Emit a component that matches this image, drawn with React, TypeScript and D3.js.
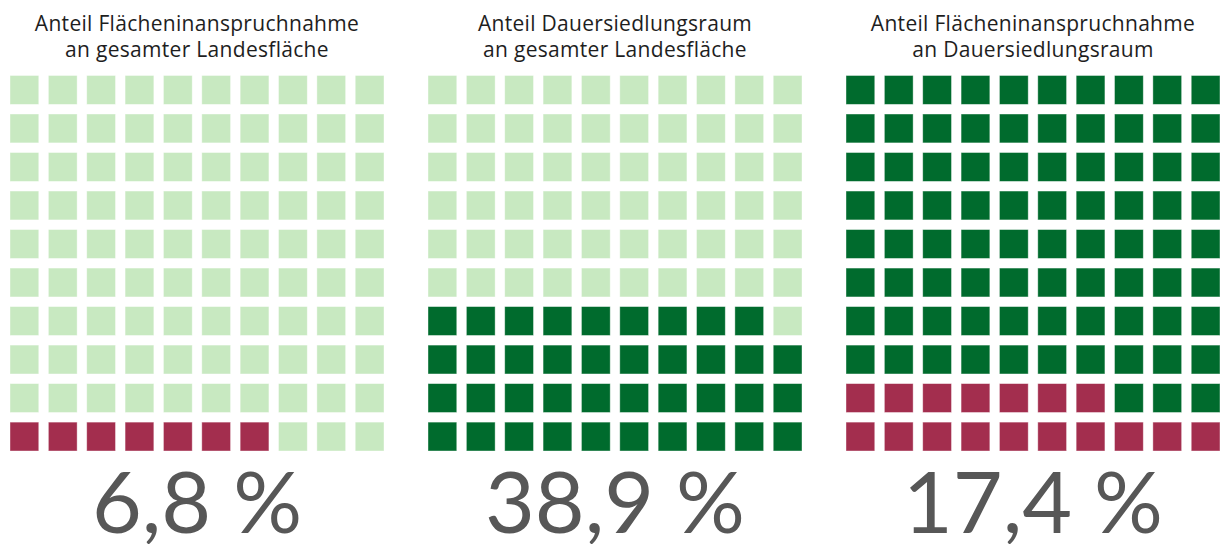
import { useEffect, useRef } from 'react'
import * as d3 from 'd3'

// Chart data
const titles = [
  ['Anteil Flächeninanspruchnahme', 'an gesamter Landesfläche'],
  ['Anteil Dauersiedlungsraum', 'an gesamter Landesfläche'],
  ['Anteil Flächeninanspruchnahme', 'an Dauersiedlungsraum'],
]
const shares = [6.8, 38.9, 17.4]
const labels = ['6,8 %', '38,9 %', '17,4 %']
const fillColors = ['#a32e4e', '#006b2d', '#a32e4e']
const baseColors = ['#c8e9c1', '#c8e9c1', '#006b2d']

const WIDTH = 1223
const HEIGHT = 544

export default function App() {
  const svgRef = useRef<SVGSVGElement>(null)

  useEffect(() => {
    if (!svgRef.current) return
    const svg = d3.select(svgRef.current)
    svg.selectAll('*').remove()

    const panelW = 374
    const panelX = d3.scaleBand<number>()
      .domain(d3.range(3))
      .range([10, WIDTH - 3])
      .paddingInner(44 / 418)

    const col = d3.scaleBand<number>().domain(d3.range(10)).range([0, panelW]).paddingInner(0.25)
    const row = d3.scaleBand<number>().domain(d3.range(10)).range([451, 75.5]).paddingInner(0.25)

    shares.forEach((v, i) => {
      const g = svg.append('g').attr('transform', `translate(${panelX(i)},0)`)
      const n = Math.round(v)
      const cells = d3.range(100).map(k => ({ r: Math.floor(k / 10), c: k % 10, on: k < n }))

      g.selectAll('rect')
        .data(cells)
        .enter()
        .append('rect')
        .attr('x', d => col(d.c)!)
        .attr('y', d => row(d.r)!)
        .attr('width', col.bandwidth())
        .attr('height', row.bandwidth())
        .attr('fill', d => d.on ? fillColors[i] : baseColors[i])
        .attr('stroke', '#ffffff')
        .attr('stroke-opacity', 0.5)
        .attr('stroke-width', 0.8)

      const t = g.append('text')
        .attr('text-anchor', 'middle')
        .attr('font-family', '"Open Sans", sans-serif')
        .attr('font-size', 21)
        .attr('letter-spacing', 0.3)
        .attr('fill', '#1e1e1e')
      titles[i].forEach((line, j) => {
        t.append('tspan')
          .attr('x', panelW / 2)
          .attr('y', 31 + j * 26)
          .text(line)
      })

      g.append('text')
        .attr('x', panelW / 2)
        .attr('y', 533)
        .attr('text-anchor', 'middle')
        .attr('font-family', 'Lato, sans-serif')
        .attr('font-size', 86)
        .attr('fill', '#575757')
        .text(labels[i])
    })
  }, [])

  return (
    <svg
      ref={svgRef}
      width={WIDTH}
      height={HEIGHT}
      style={{ position: 'absolute', left: 0, top: 0, background: '#fff' }}
    />
  )
}
